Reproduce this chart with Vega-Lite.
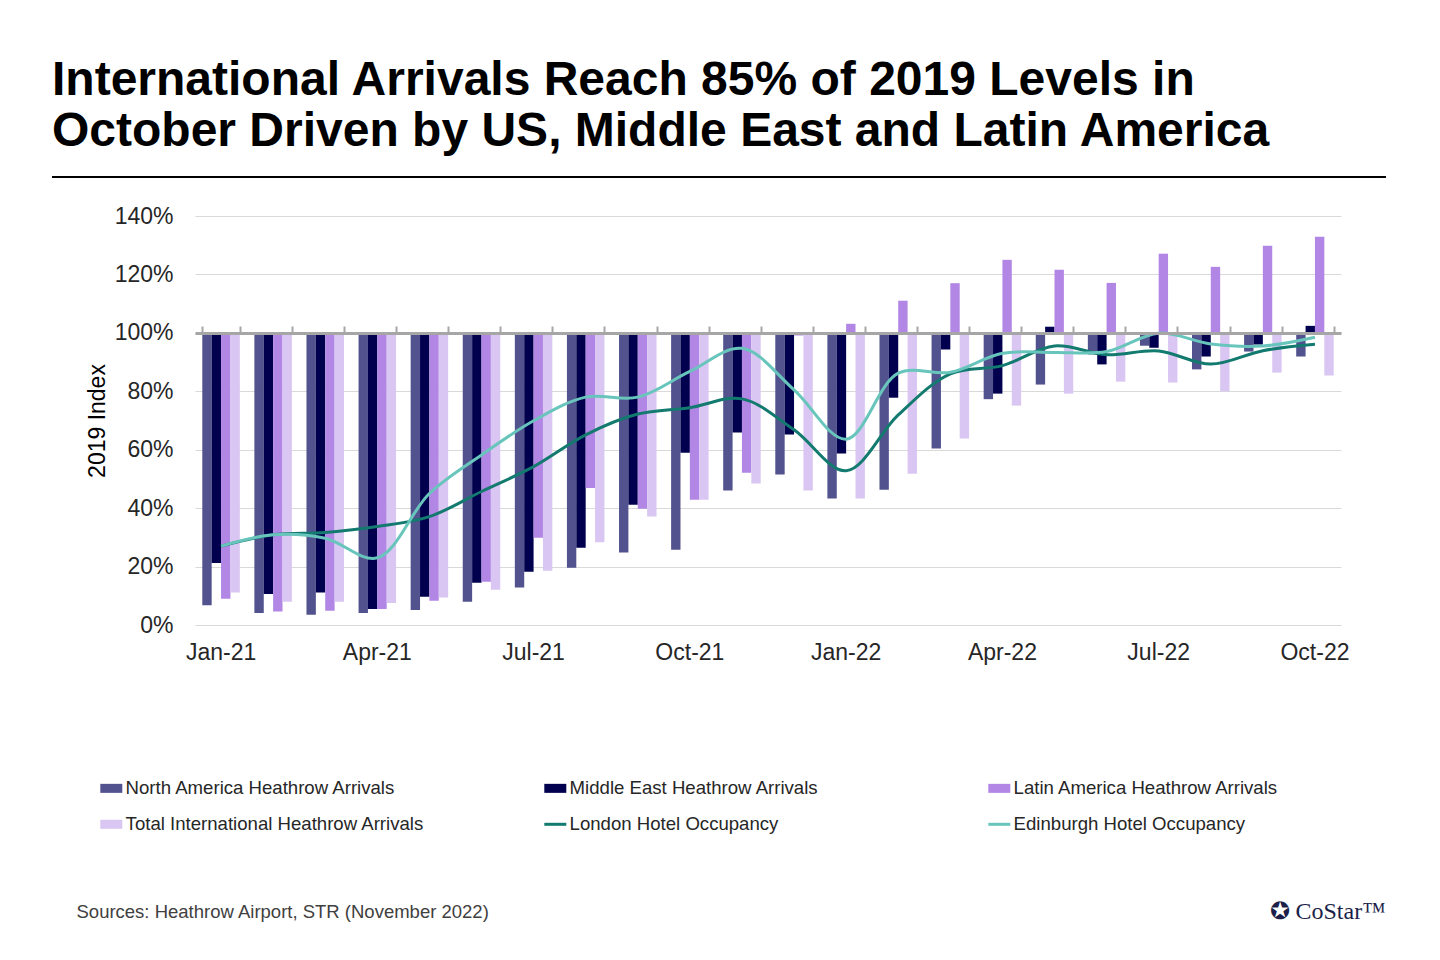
{
  "$schema": "https://vega.github.io/schema/vega-lite/v6.json",
  "width": 1146,
  "height": 409,
  "autosize": {"type": "none"},
  "padding": {"left": 195, "top": 216, "right": 99, "bottom": 335},
  "background": "#ffffff",
  "config": {
    "font": "Liberation Sans",
    "view": {"stroke": null},
    "axisY": {
      "domain": false,
      "ticks": false,
      "labelFontSize": 23,
      "labelColor": "#262626",
      "labelPadding": 22,
      "gridColor": "#d9d9d9",
      "gridWidth": 1,
      "titleFontSize": 23,
      "titleFontWeight": "normal",
      "titleColor": "#000000",
      "titlePadding": 5
    }
  },
  "title": {
    "text": ["International Arrivals Reach 85% of 2019 Levels in", "October Driven by US, Middle East and Latin America"],
    "anchor": "start",
    "frame": "group",
    "dx": -143,
    "dy": 78,
    "fontSize": 48,
    "fontWeight": "bold",
    "color": "#000000",
    "lineHeight": 51,
    "baseline": "alphabetic",
    "offset": 60
  },
  "datasets": {
    "bars": [
      {"month": "Jan-21", "series": "North America Heathrow Arrivals", "value": 6.8},
      {"month": "Jan-21", "series": "Middle East Heathrow Arrivals", "value": 21.2},
      {"month": "Jan-21", "series": "Latin America Heathrow Arrivals", "value": 9.0},
      {"month": "Jan-21", "series": "Total International Heathrow Arrivals", "value": 11.1},
      {"month": "Feb-21", "series": "North America Heathrow Arrivals", "value": 4.1},
      {"month": "Feb-21", "series": "Middle East Heathrow Arrivals", "value": 10.6},
      {"month": "Feb-21", "series": "Latin America Heathrow Arrivals", "value": 4.6},
      {"month": "Feb-21", "series": "Total International Heathrow Arrivals", "value": 8.0},
      {"month": "Mar-21", "series": "North America Heathrow Arrivals", "value": 3.5},
      {"month": "Mar-21", "series": "Middle East Heathrow Arrivals", "value": 11.1},
      {"month": "Mar-21", "series": "Latin America Heathrow Arrivals", "value": 4.9},
      {"month": "Mar-21", "series": "Total International Heathrow Arrivals", "value": 8.0},
      {"month": "Apr-21", "series": "North America Heathrow Arrivals", "value": 4.1},
      {"month": "Apr-21", "series": "Middle East Heathrow Arrivals", "value": 5.5},
      {"month": "Apr-21", "series": "Latin America Heathrow Arrivals", "value": 5.5},
      {"month": "Apr-21", "series": "Total International Heathrow Arrivals", "value": 7.5},
      {"month": "May-21", "series": "North America Heathrow Arrivals", "value": 5.1},
      {"month": "May-21", "series": "Middle East Heathrow Arrivals", "value": 9.7},
      {"month": "May-21", "series": "Latin America Heathrow Arrivals", "value": 8.3},
      {"month": "May-21", "series": "Total International Heathrow Arrivals", "value": 9.4},
      {"month": "Jun-21", "series": "North America Heathrow Arrivals", "value": 8.0},
      {"month": "Jun-21", "series": "Middle East Heathrow Arrivals", "value": 14.5},
      {"month": "Jun-21", "series": "Latin America Heathrow Arrivals", "value": 14.8},
      {"month": "Jun-21", "series": "Total International Heathrow Arrivals", "value": 12.1},
      {"month": "Jul-21", "series": "North America Heathrow Arrivals", "value": 12.8},
      {"month": "Jul-21", "series": "Middle East Heathrow Arrivals", "value": 18.2},
      {"month": "Jul-21", "series": "Latin America Heathrow Arrivals", "value": 29.9},
      {"month": "Jul-21", "series": "Total International Heathrow Arrivals", "value": 18.6},
      {"month": "Aug-21", "series": "North America Heathrow Arrivals", "value": 19.6},
      {"month": "Aug-21", "series": "Middle East Heathrow Arrivals", "value": 26.4},
      {"month": "Aug-21", "series": "Latin America Heathrow Arrivals", "value": 46.9},
      {"month": "Aug-21", "series": "Total International Heathrow Arrivals", "value": 28.3},
      {"month": "Sep-21", "series": "North America Heathrow Arrivals", "value": 24.8},
      {"month": "Sep-21", "series": "Middle East Heathrow Arrivals", "value": 41.2},
      {"month": "Sep-21", "series": "Latin America Heathrow Arrivals", "value": 39.8},
      {"month": "Sep-21", "series": "Total International Heathrow Arrivals", "value": 37.1},
      {"month": "Oct-21", "series": "North America Heathrow Arrivals", "value": 25.8},
      {"month": "Oct-21", "series": "Middle East Heathrow Arrivals", "value": 59.0},
      {"month": "Oct-21", "series": "Latin America Heathrow Arrivals", "value": 42.9},
      {"month": "Oct-21", "series": "Total International Heathrow Arrivals", "value": 42.9},
      {"month": "Nov-21", "series": "North America Heathrow Arrivals", "value": 46.0},
      {"month": "Nov-21", "series": "Middle East Heathrow Arrivals", "value": 65.9},
      {"month": "Nov-21", "series": "Latin America Heathrow Arrivals", "value": 52.1},
      {"month": "Nov-21", "series": "Total International Heathrow Arrivals", "value": 48.4},
      {"month": "Dec-21", "series": "North America Heathrow Arrivals", "value": 51.5},
      {"month": "Dec-21", "series": "Middle East Heathrow Arrivals", "value": 65.2},
      {"month": "Dec-21", "series": "Latin America Heathrow Arrivals", "value": 99.1},
      {"month": "Dec-21", "series": "Total International Heathrow Arrivals", "value": 46.0},
      {"month": "Jan-22", "series": "North America Heathrow Arrivals", "value": 43.3},
      {"month": "Jan-22", "series": "Middle East Heathrow Arrivals", "value": 58.7},
      {"month": "Jan-22", "series": "Latin America Heathrow Arrivals", "value": 103.1},
      {"month": "Jan-22", "series": "Total International Heathrow Arrivals", "value": 43.3},
      {"month": "Feb-22", "series": "North America Heathrow Arrivals", "value": 46.3},
      {"month": "Feb-22", "series": "Middle East Heathrow Arrivals", "value": 77.8},
      {"month": "Feb-22", "series": "Latin America Heathrow Arrivals", "value": 111.0},
      {"month": "Feb-22", "series": "Total International Heathrow Arrivals", "value": 51.8},
      {"month": "Mar-22", "series": "North America Heathrow Arrivals", "value": 60.4},
      {"month": "Mar-22", "series": "Middle East Heathrow Arrivals", "value": 94.3},
      {"month": "Mar-22", "series": "Latin America Heathrow Arrivals", "value": 117.0},
      {"month": "Mar-22", "series": "Total International Heathrow Arrivals", "value": 63.8},
      {"month": "Apr-22", "series": "North America Heathrow Arrivals", "value": 77.3},
      {"month": "Apr-22", "series": "Middle East Heathrow Arrivals", "value": 79.2},
      {"month": "Apr-22", "series": "Latin America Heathrow Arrivals", "value": 125.0},
      {"month": "Apr-22", "series": "Total International Heathrow Arrivals", "value": 75.1},
      {"month": "May-22", "series": "North America Heathrow Arrivals", "value": 82.3},
      {"month": "May-22", "series": "Middle East Heathrow Arrivals", "value": 102.1},
      {"month": "May-22", "series": "Latin America Heathrow Arrivals", "value": 121.6},
      {"month": "May-22", "series": "Total International Heathrow Arrivals", "value": 79.2},
      {"month": "Jun-22", "series": "North America Heathrow Arrivals", "value": 92.6},
      {"month": "Jun-22", "series": "Middle East Heathrow Arrivals", "value": 89.2},
      {"month": "Jun-22", "series": "Latin America Heathrow Arrivals", "value": 117.1},
      {"month": "Jun-22", "series": "Total International Heathrow Arrivals", "value": 83.3},
      {"month": "Jul-22", "series": "North America Heathrow Arrivals", "value": 95.6},
      {"month": "Jul-22", "series": "Middle East Heathrow Arrivals", "value": 94.9},
      {"month": "Jul-22", "series": "Latin America Heathrow Arrivals", "value": 127.1},
      {"month": "Jul-22", "series": "Total International Heathrow Arrivals", "value": 83.0},
      {"month": "Aug-22", "series": "North America Heathrow Arrivals", "value": 87.5},
      {"month": "Aug-22", "series": "Middle East Heathrow Arrivals", "value": 91.9},
      {"month": "Aug-22", "series": "Latin America Heathrow Arrivals", "value": 122.6},
      {"month": "Aug-22", "series": "Total International Heathrow Arrivals", "value": 80.0},
      {"month": "Sep-22", "series": "North America Heathrow Arrivals", "value": 93.6},
      {"month": "Sep-22", "series": "Middle East Heathrow Arrivals", "value": 96.0},
      {"month": "Sep-22", "series": "Latin America Heathrow Arrivals", "value": 129.8},
      {"month": "Sep-22", "series": "Total International Heathrow Arrivals", "value": 86.4},
      {"month": "Oct-22", "series": "North America Heathrow Arrivals", "value": 91.9},
      {"month": "Oct-22", "series": "Middle East Heathrow Arrivals", "value": 102.4},
      {"month": "Oct-22", "series": "Latin America Heathrow Arrivals", "value": 132.9},
      {"month": "Oct-22", "series": "Total International Heathrow Arrivals", "value": 85.4}
    ],
    "lines": [
      {"month": "Jan-21", "series": "London Hotel Occupancy", "value": 27.0},
      {"month": "Feb-21", "series": "London Hotel Occupancy", "value": 30.9},
      {"month": "Mar-21", "series": "London Hotel Occupancy", "value": 31.7},
      {"month": "Apr-21", "series": "London Hotel Occupancy", "value": 33.7},
      {"month": "May-21", "series": "London Hotel Occupancy", "value": 37.1},
      {"month": "Jun-21", "series": "London Hotel Occupancy", "value": 45.7},
      {"month": "Jul-21", "series": "London Hotel Occupancy", "value": 54.2},
      {"month": "Aug-21", "series": "London Hotel Occupancy", "value": 65.1},
      {"month": "Sep-21", "series": "London Hotel Occupancy", "value": 72.2},
      {"month": "Oct-21", "series": "London Hotel Occupancy", "value": 74.4},
      {"month": "Nov-21", "series": "London Hotel Occupancy", "value": 77.4},
      {"month": "Dec-21", "series": "London Hotel Occupancy", "value": 66.8},
      {"month": "Jan-22", "series": "London Hotel Occupancy", "value": 52.8},
      {"month": "Feb-22", "series": "London Hotel Occupancy", "value": 71.9},
      {"month": "Mar-22", "series": "London Hotel Occupancy", "value": 86.0},
      {"month": "Apr-22", "series": "London Hotel Occupancy", "value": 88.8},
      {"month": "May-22", "series": "London Hotel Occupancy", "value": 95.5},
      {"month": "Jun-22", "series": "London Hotel Occupancy", "value": 92.5},
      {"month": "Jul-22", "series": "London Hotel Occupancy", "value": 93.8},
      {"month": "Aug-22", "series": "London Hotel Occupancy", "value": 89.3},
      {"month": "Sep-22", "series": "London Hotel Occupancy", "value": 93.9},
      {"month": "Oct-22", "series": "London Hotel Occupancy", "value": 96.1},
      {"month": "Jan-21", "series": "Edinburgh Hotel Occupancy", "value": 27.0},
      {"month": "Feb-21", "series": "Edinburgh Hotel Occupancy", "value": 30.9},
      {"month": "Mar-21", "series": "Edinburgh Hotel Occupancy", "value": 29.7},
      {"month": "Apr-21", "series": "Edinburgh Hotel Occupancy", "value": 23.0},
      {"month": "May-21", "series": "Edinburgh Hotel Occupancy", "value": 45.0},
      {"month": "Jun-21", "series": "Edinburgh Hotel Occupancy", "value": 58.2},
      {"month": "Jul-21", "series": "Edinburgh Hotel Occupancy", "value": 69.9},
      {"month": "Aug-21", "series": "Edinburgh Hotel Occupancy", "value": 78.0},
      {"month": "Sep-21", "series": "Edinburgh Hotel Occupancy", "value": 78.0},
      {"month": "Oct-21", "series": "Edinburgh Hotel Occupancy", "value": 86.8},
      {"month": "Nov-21", "series": "Edinburgh Hotel Occupancy", "value": 94.7},
      {"month": "Dec-21", "series": "Edinburgh Hotel Occupancy", "value": 80.5},
      {"month": "Jan-22", "series": "Edinburgh Hotel Occupancy", "value": 63.6},
      {"month": "Feb-22", "series": "Edinburgh Hotel Occupancy", "value": 86.2},
      {"month": "Mar-22", "series": "Edinburgh Hotel Occupancy", "value": 86.5},
      {"month": "Apr-22", "series": "Edinburgh Hotel Occupancy", "value": 93.0},
      {"month": "May-22", "series": "Edinburgh Hotel Occupancy", "value": 93.3},
      {"month": "Jun-22", "series": "Edinburgh Hotel Occupancy", "value": 93.6},
      {"month": "Jul-22", "series": "Edinburgh Hotel Occupancy", "value": 99.9},
      {"month": "Aug-22", "series": "Edinburgh Hotel Occupancy", "value": 96.2},
      {"month": "Sep-22", "series": "Edinburgh Hotel Occupancy", "value": 95.5},
      {"month": "Oct-22", "series": "Edinburgh Hotel Occupancy", "value": 98.5}
    ],
    "decor": [{"item": "title rule"}]
  },
  "layer": [
    {
      "data": {"name": "bars"},
      "mark": {"type": "bar"},
      "encoding": {
        "x": {
          "field": "month",
          "type": "nominal",
          "scale": {
            "domain": ["Jan-21","Feb-21","Mar-21","Apr-21","May-21","Jun-21","Jul-21","Aug-21","Sep-21","Oct-21","Nov-21","Dec-21","Jan-22","Feb-22","Mar-22","Apr-22","May-22","Jun-22","Jul-22","Aug-22","Sep-22","Oct-22"],
            "paddingInner": 0.28,
            "paddingOuter": 0.14
          },
          "axis": {
            "orient": "bottom",
            "values": ["Jan-21","Apr-21","Jul-21","Oct-21","Jan-22","Apr-22","Jul-22","Oct-22"],
            "domain": false,
            "ticks": false,
            "tickSize": 0,
            "grid": false,
            "labelAngle": 0,
            "labelFontSize": 23,
            "labelColor": "#262626",
            "labelPadding": 16,
            "title": "Sources: Heathrow Airport, STR (November 2022)",
            "titleFontSize": 18.5,
            "titleFontWeight": "normal",
            "titleColor": "#404040",
            "titleAlign": "left",
            "titleBaseline": "middle",
            "titleX": -119,
            "titleY": 286
          }
        },
        "xOffset": {
          "field": "series",
          "scale": {"domain": ["North America Heathrow Arrivals","Middle East Heathrow Arrivals","Latin America Heathrow Arrivals","Total International Heathrow Arrivals"]}
        },
        "y": {
          "field": "value",
          "type": "quantitative",
          "scale": {"domain": [0, 140], "nice": false},
          "axis": {"values": [0,20,40,60,80,100,120,140], "labelExpr": "datum.value + '%'", "title": "2019 Index"}
        },
        "y2": {"datum": 100},
        "color": {
          "field": "series",
          "type": "nominal",
          "scale": {
            "domain": ["North America Heathrow Arrivals","Middle East Heathrow Arrivals","Latin America Heathrow Arrivals","Total International Heathrow Arrivals","London Hotel Occupancy","Edinburgh Hotel Occupancy"],
            "range": ["#52528e","#01004f","#b186e4","#d9c6f2","#127a6e","#68c5bc"]
          },
          "legend": {
            "orient": "none",
            "direction": "horizontal",
            "legendX": -93,
            "legendY": 563,
            "columns": 3,
            "gridAlign": "all",
            "title": null,
            "labelFontSize": 18.6,
            "labelColor": "#262626",
            "labelLimit": 420,
            "labelOffset": 5,
            "symbolSize": 484,
            "rowPadding": 17,
            "columnPadding": 113,
            "encode": {
              "symbols": {
                "update": {
                  "shape": {"signal": "indexof(['London Hotel Occupancy','Edinburgh Hotel Occupancy'], datum.value) >= 0 ? 'stroke' : 'M-1,-0.41L1,-0.41L1,0.41L-1,0.41Z'"},
                  "fill": {"scale": "color", "field": "value"},
                  "stroke": {"scale": "color", "field": "value"},
                  "strokeWidth": {"signal": "indexof(['London Hotel Occupancy','Edinburgh Hotel Occupancy'], datum.value) >= 0 ? 3 : 0"},
                  "opacity": {"value": 1}
                }
              }
            }
          }
        }
      }
    },
    {
      "data": {"name": "lines"},
      "mark": {"type": "line", "interpolate": "catmull-rom", "strokeWidth": 3},
      "encoding": {
        "x": {
          "field": "month",
          "type": "nominal",
          "axis": {
            "orient": "top",
            "offset": -117,
            "labels": false,
            "ticks": true,
            "tickBand": "extent",
            "tickSize": 7,
            "tickWidth": 2,
            "tickColor": "#a6a6a6",
            "domain": true,
            "domainColor": "#a6a6a6",
            "domainWidth": 3,
            "grid": false,
            "zindex": 1,
            "title": "✪ CoStar™",
            "titleFont": "Liberation Serif",
            "titleFontSize": 24,
            "titleFontWeight": "normal",
            "titleColor": "#1c1f4a",
            "titleAngle": 0,
            "titleAlign": "left",
            "titleBaseline": "middle",
            "titleX": 1074,
            "titleY": 578
          }
        },
        "y": {
          "field": "value",
          "type": "quantitative",
          "axis": {"values": [0,20,40,60,80,100,120,140], "labelExpr": "datum.value + '%'", "title": "2019 Index"}
        },
        "color": {"field": "series", "type": "nominal"}
      }
    },
    {
      "data": {"name": "decor"},
      "mark": {"type": "rule", "color": "#000000", "strokeWidth": 2},
      "encoding": {
        "x": {"value": -143},
        "x2": {"value": 1191},
        "y": {"value": -39}
      }
    }
  ],
  "resolve": {"axis": {"x": "independent"}}
}
